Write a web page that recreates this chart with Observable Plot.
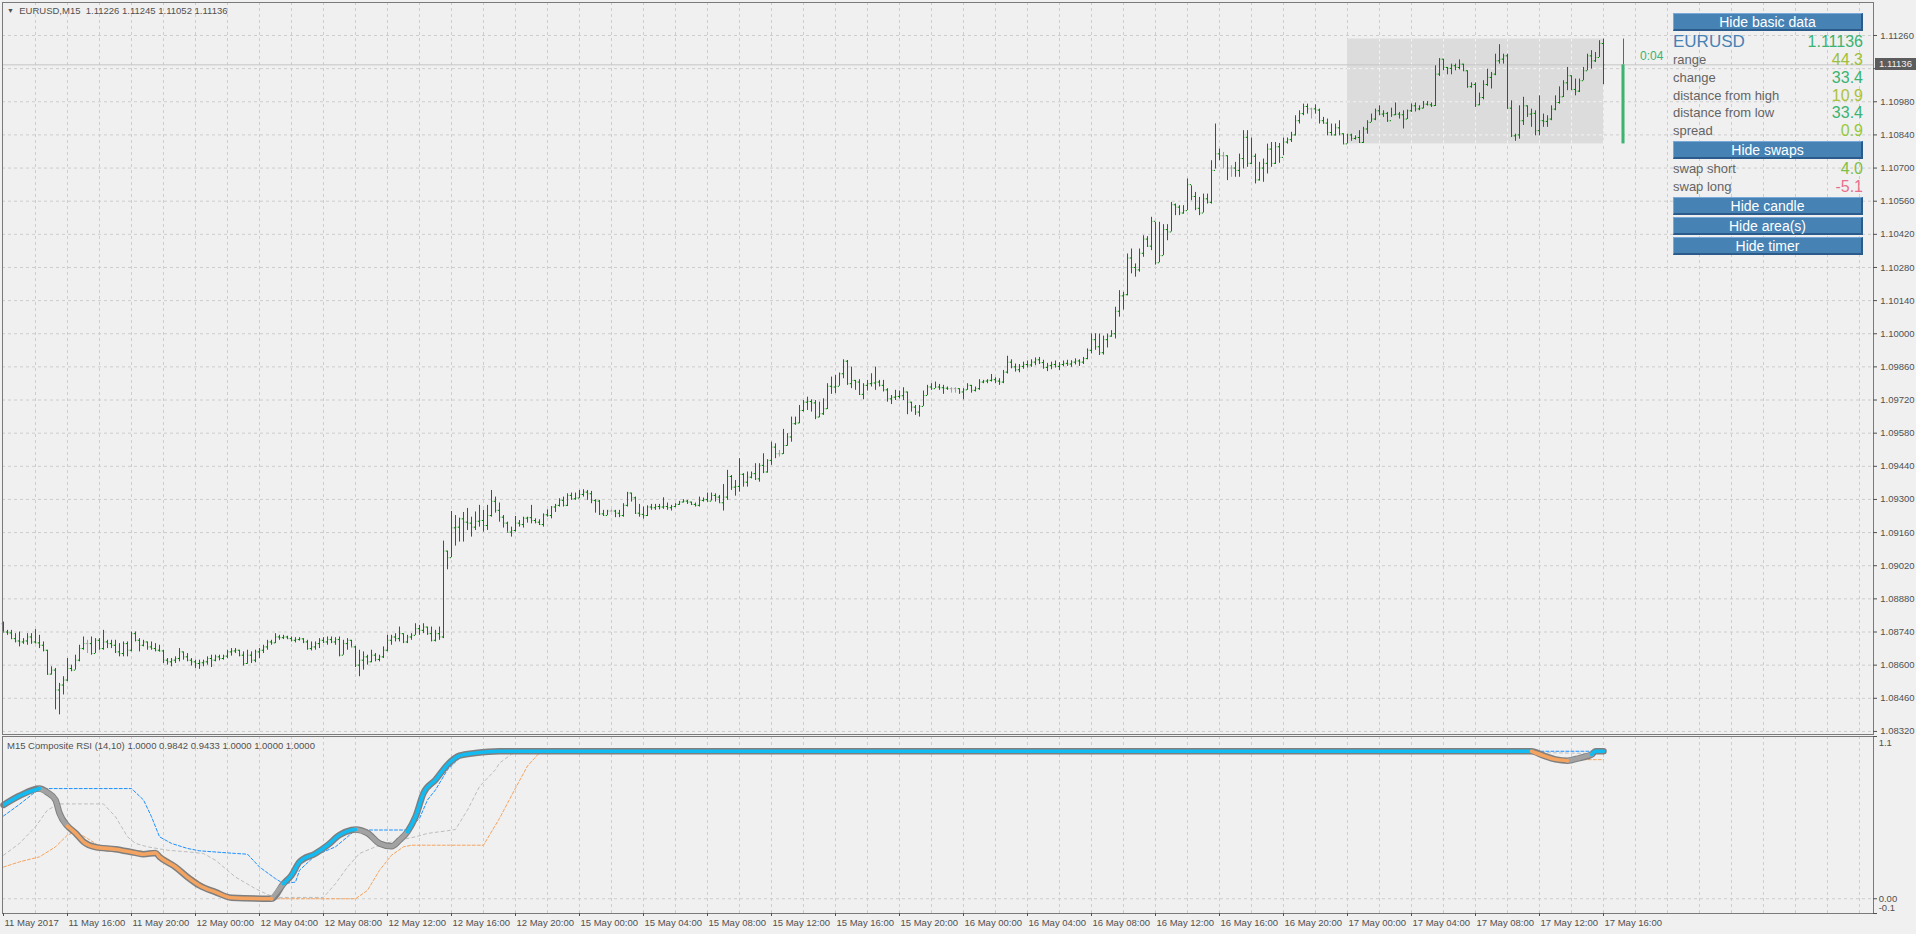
<!DOCTYPE html>
<html><head><meta charset="utf-8">
<script src="https://cdn.jsdelivr.net/npm/d3@7"></script>
<script src="https://cdn.jsdelivr.net/npm/@observablehq/plot@0.6"></script>
<style>
html,body{margin:0;padding:0;background:#f0f0f0;}
#wrap{position:relative;width:1916px;height:934px;overflow:hidden;background:#f0f0f0;font-family:"Liberation Sans",Arial,sans-serif;}
#wrap > div{position:absolute;}
.small{font-size:9.5px;color:#505050;white-space:nowrap;line-height:12px;height:12px;}
.btn{left:1673px;width:190px;height:18px;background:#4682b4;color:#fff;font-size:14px;line-height:16px;text-align:center;box-sizing:border-box;border-top:1px solid #78a9d9;border-left:1px solid #78a9d9;border-bottom:2px solid #2b5b8a;border-right:2px solid #2b5b8a;white-space:nowrap;}
.lbl{left:1673px;height:18px;line-height:18px;font-size:13px;color:#646464;white-space:nowrap;}
.val{right:53px;height:18px;line-height:18px;font-size:16px;text-align:right;white-space:nowrap;}
</style>
</head><body>
<div id="wrap"></div>
<script>
// ---------------- data ----------------
const symbol = "EURUSD";
const timeframe = "M15";
const firstOpen = 1.08775;
const barHigh = [
1.08782,1.08747,1.08747,1.08733,1.08740,1.08712,1.08733,1.08733,1.08750,1.08726,
1.08698,1.08663,1.08593,1.08586,1.08523,1.08551,1.08628,1.08600,1.08642,1.08684,
1.08719,1.08705,1.08719,1.08712,1.08712,1.08747,1.08705,1.08705,1.08705,1.08691,
1.08698,1.08698,1.08740,1.08740,1.08712,1.08705,1.08698,1.08698,1.08691,1.08684,
1.08663,1.08628,1.08628,1.08635,1.08670,1.08656,1.08649,1.08628,1.08621,1.08621,
1.08621,1.08635,1.08642,1.08642,1.08642,1.08642,1.08663,1.08670,1.08670,1.08663,
1.08656,1.08663,1.08656,1.08663,1.08670,1.08684,1.08705,1.08705,1.08733,1.08726,
1.08726,1.08722,1.08719,1.08716,1.08716,1.08712,1.08705,1.08698,1.08698,1.08712,
1.08716,1.08719,1.08719,1.08716,1.08719,1.08705,1.08712,1.08705,1.08680,1.08663,
1.08656,1.08642,1.08663,1.08649,1.08642,1.08677,1.08726,1.08726,1.08733,1.08761,
1.08733,1.08726,1.08733,1.08775,1.08768,1.08775,1.08761,1.08761,1.08747,1.08761,
1.09124,1.09082,1.09249,1.09232,1.09221,1.09245,1.09262,1.09225,1.09247,1.09275,
1.09254,1.09275,1.09338,1.09310,1.09285,1.09232,1.09204,1.09183,1.09228,1.09211,
1.09225,1.09225,1.09275,1.09218,1.09214,1.09239,1.09256,1.09270,1.09279,1.09303,
1.09310,1.09324,1.09327,1.09327,1.09338,1.09341,1.09338,1.09334,1.09299,1.09296,
1.09254,1.09254,1.09256,1.09254,1.09254,1.09282,1.09330,1.09327,1.09310,1.09279,
1.09268,1.09273,1.09279,1.09279,1.09279,1.09307,1.09285,1.09275,1.09282,1.09292,
1.09299,1.09296,1.09289,1.09285,1.09310,1.09306,1.09327,1.09327,1.09324,1.09317,
1.09363,1.09423,1.09401,1.09380,1.09472,1.09409,1.09416,1.09416,1.09451,1.09451,
1.09493,1.09468,1.09542,1.09535,1.09507,1.09596,1.09578,1.09648,1.09648,1.09697,
1.09718,1.09732,1.09721,1.09718,1.09711,1.09725,1.09789,1.09817,1.09824,1.09834,
1.09890,1.09887,1.09859,1.09803,1.09806,1.09789,1.09803,1.09831,1.09859,1.09803,
1.09803,1.09768,1.09739,1.09761,1.09758,1.09772,1.09754,1.09711,1.09697,1.09697,
1.09758,1.09782,1.09789,1.09796,1.09786,1.09782,1.09775,1.09772,1.09772,1.09768,
1.09768,1.09789,1.09782,1.09775,1.09806,1.09803,1.09806,1.09828,1.09814,1.09810,
1.09845,1.09905,1.09890,1.09872,1.09870,1.09880,1.09885,1.09890,1.09898,1.09900,
1.09888,1.09875,1.09880,1.09885,1.09878,1.09885,1.09888,1.09886,1.09894,1.09890,
1.09900,1.09936,1.09999,1.10000,1.09999,1.09990,1.09999,1.10013,1.10112,1.10182,
1.10175,1.10337,1.10358,1.10295,1.10358,1.10414,1.10410,1.10492,1.10471,1.10471,
1.10461,1.10461,1.10555,1.10548,1.10541,1.10541,1.10654,1.10625,1.10597,1.10576,
1.10590,1.10590,1.10731,1.10886,1.10780,1.10766,1.10752,1.10710,1.10724,1.10759,
1.10858,1.10858,1.10827,1.10759,1.10724,1.10738,1.10801,1.10808,1.10808,1.10804,
1.10827,1.10827,1.10851,1.10921,1.10942,1.10970,1.10970,1.10953,1.10967,1.10949,
1.10914,1.10907,1.10886,1.10886,1.10900,1.10845,1.10843,1.10843,1.10836,1.10858,
1.10872,1.10900,1.10928,1.10949,1.10963,1.10942,1.10935,1.10953,1.10975,1.10935,
1.10942,1.10945,1.10971,1.10975,1.10963,1.10981,1.10981,1.10975,1.11132,1.11162,
1.11160,1.11125,1.11139,1.11139,1.11157,1.11139,1.11111,1.11060,1.11060,1.11017,
1.11069,1.11118,1.11104,1.11181,1.11221,1.11181,1.11181,1.10984,1.10843,1.10963,
1.10999,1.10963,1.10949,1.10942,1.11005,1.10928,1.10921,1.10963,1.11005,1.11043,
1.11069,1.11125,1.11090,1.11076,1.11076,1.11125,1.11181,1.11196,1.11188,1.11238,
1.11245];
const barLow = [
1.08740,1.08726,1.08708,1.08694,1.08677,1.08688,1.08684,1.08688,1.08691,1.08670,
1.08656,1.08558,1.08558,1.08411,1.08390,1.08474,1.08530,1.08572,1.08579,1.08614,
1.08663,1.08649,1.08642,1.08649,1.08663,1.08663,1.08670,1.08670,1.08649,1.08635,
1.08635,1.08635,1.08656,1.08698,1.08656,1.08677,1.08663,1.08663,1.08656,1.08656,
1.08607,1.08600,1.08593,1.08607,1.08614,1.08621,1.08614,1.08596,1.08586,1.08582,
1.08593,1.08600,1.08590,1.08614,1.08618,1.08621,1.08628,1.08638,1.08649,1.08635,
1.08596,1.08604,1.08607,1.08610,1.08628,1.08649,1.08663,1.08684,1.08691,1.08705,
1.08708,1.08708,1.08698,1.08694,1.08702,1.08691,1.08663,1.08660,1.08663,1.08670,
1.08691,1.08684,1.08691,1.08684,1.08635,1.08642,1.08663,1.08677,1.08590,1.08551,
1.08579,1.08600,1.08610,1.08614,1.08614,1.08628,1.08656,1.08684,1.08698,1.08698,
1.08691,1.08691,1.08705,1.08726,1.08726,1.08733,1.08726,1.08698,1.08698,1.08705,
1.08712,1.09003,1.09054,1.09103,1.09120,1.09120,1.09169,1.09141,1.09169,1.09183,
1.09162,1.09169,1.09225,1.09242,1.09204,1.09179,1.09162,1.09141,1.09162,1.09183,
1.09179,1.09200,1.09197,1.09197,1.09190,1.09183,1.09225,1.09218,1.09245,1.09268,
1.09268,1.09270,1.09296,1.09296,1.09303,1.09310,1.09296,1.09282,1.09242,1.09232,
1.09228,1.09232,1.09247,1.09223,1.09223,1.09225,1.09268,1.09289,1.09237,1.09225,
1.09217,1.09228,1.09254,1.09254,1.09256,1.09258,1.09254,1.09251,1.09265,1.09275,
1.09285,1.09279,1.09275,1.09268,1.09268,1.09289,1.09289,1.09293,1.09289,1.09285,
1.09251,1.09296,1.09338,1.09314,1.09331,1.09352,1.09352,1.09387,1.09380,1.09373,
1.09409,1.09411,1.09444,1.09472,1.09479,1.09490,1.09525,1.09542,1.09613,1.09620,
1.09669,1.09676,1.09669,1.09637,1.09645,1.09655,1.09680,1.09744,1.09747,1.09778,
1.09810,1.09782,1.09768,1.09761,1.09739,1.09721,1.09758,1.09775,1.09761,1.09775,
1.09754,1.09711,1.09701,1.09718,1.09725,1.09718,1.09658,1.09669,1.09655,1.09648,
1.09693,1.09739,1.09761,1.09768,1.09761,1.09744,1.09761,1.09749,1.09749,1.09744,
1.09721,1.09761,1.09749,1.09754,1.09761,1.09789,1.09789,1.09796,1.09789,1.09782,
1.09789,1.09830,1.09852,1.09838,1.09835,1.09850,1.09855,1.09858,1.09865,1.09870,
1.09850,1.09840,1.09848,1.09855,1.09845,1.09860,1.09862,1.09858,1.09868,1.09862,
1.09870,1.09890,1.09915,1.09930,1.09908,1.09910,1.09940,1.09985,1.09978,1.10070,
1.10100,1.10160,1.10253,1.10239,1.10260,1.10323,1.10365,1.10351,1.10290,1.10300,
1.10330,1.10393,1.10430,1.10499,1.10499,1.10505,1.10520,1.10562,1.10520,1.10499,
1.10510,1.10548,1.10548,1.10696,1.10731,1.10696,1.10647,1.10661,1.10661,1.10661,
1.10696,1.10703,1.10715,1.10633,1.10645,1.10640,1.10675,1.10703,1.10715,1.10720,
1.10752,1.10801,1.10808,1.10835,1.10886,1.10921,1.10928,1.10907,1.10928,1.10886,
1.10886,1.10836,1.10836,1.10835,1.10836,1.10800,1.10802,1.10813,1.10818,1.10804,
1.10804,1.10843,1.10893,1.10900,1.10921,1.10914,1.10893,1.10914,1.10921,1.10907,
1.10865,1.10905,1.10935,1.10937,1.10942,1.10950,1.10963,1.10956,1.10960,1.11087,
1.11111,1.11094,1.11094,1.11111,1.11115,1.11108,1.11037,1.11037,1.10956,1.10963,
1.10988,1.11045,1.11034,1.11090,1.11139,1.11139,1.10949,1.10829,1.10813,1.10822,
1.10880,1.10914,1.10872,1.10836,1.10836,1.10872,1.10872,1.10900,1.10942,1.10970,
1.10998,1.11027,1.11027,1.11005,1.11019,1.11069,1.11111,1.11118,1.11146,1.11167,
1.11052];
const barClose = [
1.08740,1.08736,1.08712,1.08702,1.08698,1.08702,1.08719,1.08698,1.08694,1.08684,
1.08663,1.08562,1.08579,1.08495,1.08516,1.08537,1.08586,1.08579,1.08621,1.08670,
1.08691,1.08691,1.08649,1.08705,1.08670,1.08698,1.08691,1.08684,1.08656,1.08649,
1.08691,1.08663,1.08733,1.08705,1.08684,1.08698,1.08677,1.08670,1.08663,1.08660,
1.08621,1.08614,1.08621,1.08628,1.08656,1.08635,1.08621,1.08614,1.08607,1.08610,
1.08614,1.08628,1.08621,1.08635,1.08628,1.08638,1.08656,1.08660,1.08663,1.08642,
1.08607,1.08642,1.08621,1.08656,1.08663,1.08677,1.08698,1.08694,1.08719,1.08716,
1.08719,1.08712,1.08705,1.08708,1.08711,1.08698,1.08670,1.08677,1.08691,1.08705,
1.08698,1.08708,1.08698,1.08708,1.08642,1.08691,1.08705,1.08677,1.08600,1.08621,
1.08635,1.08614,1.08642,1.08624,1.08635,1.08663,1.08705,1.08719,1.08712,1.08733,
1.08698,1.08719,1.08726,1.08754,1.08747,1.08761,1.08733,1.08705,1.08733,1.08719,
1.09082,1.09054,1.09180,1.09183,1.09218,1.09204,1.09200,1.09183,1.09208,1.09211,
1.09190,1.09232,1.09292,1.09254,1.09225,1.09200,1.09162,1.09169,1.09200,1.09194,
1.09221,1.09223,1.09211,1.09204,1.09194,1.09235,1.09232,1.09268,1.09275,1.09296,
1.09275,1.09317,1.09303,1.09306,1.09321,1.09331,1.09324,1.09296,1.09293,1.09239,
1.09232,1.09251,1.09251,1.09242,1.09232,1.09275,1.09327,1.09307,1.09242,1.09237,
1.09232,1.09268,1.09265,1.09270,1.09268,1.09270,1.09265,1.09270,1.09279,1.09289,
1.09293,1.09289,1.09279,1.09275,1.09296,1.09299,1.09293,1.09317,1.09310,1.09286,
1.09310,1.09397,1.09352,1.09355,1.09406,1.09373,1.09394,1.09409,1.09387,1.09444,
1.09416,1.09465,1.09521,1.09493,1.09493,1.09528,1.09564,1.09620,1.09623,1.09676,
1.09711,1.09714,1.09708,1.09648,1.09662,1.09683,1.09778,1.09775,1.09778,1.09831,
1.09884,1.09789,1.09803,1.09796,1.09744,1.09782,1.09789,1.09792,1.09796,1.09782,
1.09763,1.09725,1.09732,1.09735,1.09738,1.09754,1.09711,1.09690,1.09669,1.09693,
1.09739,1.09775,1.09768,1.09775,1.09772,1.09770,1.09768,1.09768,1.09768,1.09754,
1.09763,1.09782,1.09761,1.09768,1.09796,1.09800,1.09803,1.09806,1.09800,1.09796,
1.09838,1.09880,1.09860,1.09848,1.09862,1.09870,1.09868,1.09880,1.09890,1.09878,
1.09858,1.09865,1.09870,1.09862,1.09870,1.09875,1.09872,1.09880,1.09885,1.09880,
1.09895,1.09930,1.09975,1.09945,1.09920,1.09975,1.09990,1.10000,1.10095,1.10160,
1.10165,1.10320,1.10280,1.10270,1.10340,1.10400,1.10370,1.10475,1.10300,1.10330,
1.10440,1.10430,1.10545,1.10535,1.10510,1.10520,1.10630,1.10580,1.10530,1.10510,
1.10570,1.10555,1.10690,1.10760,1.10752,1.10752,1.10700,1.10700,1.10690,1.10740,
1.10830,1.10720,1.10750,1.10650,1.10700,1.10720,1.10780,1.10720,1.10790,1.10745,
1.10810,1.10820,1.10840,1.10900,1.10930,1.10960,1.10950,1.10950,1.10945,1.10900,
1.10890,1.10850,1.10840,1.10870,1.10845,1.10802,1.10840,1.10825,1.10829,1.10808,
1.10865,1.10893,1.10907,1.10942,1.10928,1.10931,1.10900,1.10925,1.10928,1.10925,
1.10907,1.10942,1.10963,1.10950,1.10953,1.10970,1.10967,1.10964,1.11097,1.11160,
1.11125,1.11121,1.11132,1.11125,1.11139,1.11111,1.11044,1.11053,1.10967,1.10998,
1.11053,1.11083,1.11097,1.11153,1.11160,1.11174,1.10953,1.10836,1.10840,1.10900,
1.10963,1.10928,1.10931,1.10858,1.10900,1.10897,1.10907,1.10949,1.10977,1.11001,
1.11060,1.11090,1.11032,1.11025,1.11069,1.11111,1.11174,1.11153,1.11167,1.11226,
1.11136];

// day (17 May) box / current candle
const dayStartBar = 336;
const dayOpen = 1.10802, dayHigh = 1.11245, dayLow = 1.10802;
const timerText = "0:04";

// price axis ticks
const priceTicks = [1.08320,1.08460,1.08600,1.08740,1.08880,1.09020,1.09160,1.09300,1.09440,1.09580,1.09720,
  1.09860,1.10000,1.10140,1.10280,1.10420,1.10560,1.10700,1.10840,1.10980,1.11120,1.11260];
// time axis labels (every 16 bars = 4 hours)
const dateLabels = ["11 May 2017","11 May 16:00","11 May 20:00","12 May 00:00","12 May 04:00","12 May 08:00",
  "12 May 12:00","12 May 16:00","12 May 20:00","15 May 00:00","15 May 04:00","15 May 08:00","15 May 12:00",
  "15 May 16:00","15 May 20:00","16 May 00:00","16 May 04:00","16 May 08:00","16 May 12:00","16 May 16:00",
  "16 May 20:00","17 May 00:00","17 May 04:00","17 May 08:00","17 May 12:00","17 May 16:00"];
const rsiTicks = [1.1, 0, -0.1];
const rsiTickLabels = ["1.1", "0.00", "-0.1"];

// Composite RSI (thick line): vertices and state of each segment (u = up, d = down, n = neutral)
const compBar = [0,4,9,11,13,14,16,18,20,23,28,33,35,38,39,43,46,49,53,57,67,70,72,74,78,81,84,87,88,91,94,97,99,101,103,105,108,111,114,118,124,382,385,388,391,394,397,398,400];
const compVal = [0.636,0.698,0.747,0.72,0.67,0.58,0.493,0.445,0.386,0.35,0.336,0.311,0.302,0.311,0.284,0.215,0.147,0.09,0.045,0.007,0,0.102,0.159,0.25,0.307,0.363,0.432,0.466,0.47,0.445,0.375,0.356,0.397,0.454,0.556,0.716,0.806,0.909,0.97,0.988,1.0,1.0,0.97,0.945,0.936,0.954,0.977,1.0,1.0];
const compState = ["u","u","n","n","n","n","d","d","d","d","d","d","d","d","d","d","d","d","d","d","n","u","u","u","u","u","u","u","n","n","n","n","n","u","u","u","u","u","u","u","u","d","d","d","n","n","u","u"];
// upper level (blue dashed)
const upBar = [0,4,9,32,35,37,39,42,46,49,58,61,64,68,70,73,74,78,83,86,88,101,104,106,108,111,114,118,123,400];
const upVal = [0.561,0.64,0.747,0.747,0.67,0.556,0.42,0.375,0.341,0.325,0.307,0.302,0.215,0.136,0.102,0.113,0.193,0.295,0.352,0.42,0.466,0.466,0.545,0.67,0.738,0.875,0.954,0.984,0.997,1.0];
// lower level (orange dashed)
const loBar = [0,4,9,13,16,18,21,24,33,37,41,44,49,53,58,88,91,94,97,100,102,120,124,128,131,134,136,382,385,388,391,400];
const loVal = [0.215,0.25,0.284,0.352,0.432,0.454,0.409,0.357,0.325,0.318,0.273,0.205,0.113,0.045,0.0,0.0,0.057,0.193,0.295,0.352,0.363,0.363,0.545,0.75,0.9,0.99,1.0,1.0,0.97,0.945,0.943,0.943];
// middle level (grey dotted)
const midBar = [0,4,8,11,14,25,28,31,33,36,41,46,50,53,58,63,66,68,80,83,86,89,93,96,99,103,106,111,113,116,119,123,124,127,129,382,386,400];
const midVal = [0.295,0.375,0.488,0.602,0.643,0.643,0.556,0.42,0.375,0.352,0.329,0.318,0.307,0.261,0.147,0.068,0.029,0.009,0.009,0.102,0.215,0.307,0.352,0.379,0.397,0.42,0.443,0.461,0.47,0.602,0.761,0.875,0.92,0.98,1.0,1.0,0.99,0.984];
const rsiName = "M15 Composite RSI (14,10)";
const rsiBufferValues = ["1.0000","0.9842","0.9433","1.0000","1.0000","1.0000"];

// info panel
const infoLabels = ["range","change","distance from high","distance from low","spread"];
const infoValues = ["44.3","33.4","10.9","33.4","0.9"];
const infoColors = ["#9fbf3a","#3cb371","#abc23a","#3cb371","#96c83c"];
const swapLabels = ["swap short","swap long"];
const swapValues = ["4.0","-5.1"];
const swapColors = ["#7dbf4a","#e8708c"];
const buttonLabels = ["Hide basic data","Hide swaps","Hide candle","Hide area(s)","Hide timer"];

// ---------------- build ----------------
const N = barClose.length;
const bars = d3.range(N).map(i => ({
  i, high: barHigh[i], low: barLow[i], close: barClose[i],
  open: i === 0 ? firstOpen : barClose[i - 1]
}));
bars.forEach(b => b.doji = b.open === b.close);
const normal = bars.filter(b => !b.doji), doji = bars.filter(b => b.doji);
const lastBar = N - 1;
const lastClose = barClose[lastBar];
const candleBar = lastBar + 5;

const xDom = [-0.25, 467.5];
const gridBars = d3.range(8, 466, 8);
const gridCol = "#cdcdcd", dash = "3,3";
const font = "Liberation Sans, Arial, sans-serif";
const axisCol = "#505050";
const green = "#008000", grey = "#a0a0a0";
const dayEnd = lastBar + 0.2;
// the tick label hidden behind the current-price box
const shownTicks = priceTicks.filter(p => Math.abs(p - lastClose) > 0.0003);

const main = Plot.plot({
  width: 1916, height: 736,
  marginTop: 2, marginBottom: 2, marginLeft: 2, marginRight: 43,
  x: {domain: xDom, axis: null},
  y: {domain: [1.08307, 1.113994], axis: null},
  style: {background: "transparent", fontFamily: font, fontSize: "9.5px", overflow: "visible"},
  marks: [
    Plot.ruleX(gridBars, {stroke: gridCol, strokeDasharray: dash}),
    Plot.ruleY(priceTicks, {stroke: gridCol, strokeDasharray: dash}),
    Plot.rect([{x1: dayStartBar, x2: dayEnd, y1: dayLow, y2: dayHigh}], {x1: "x1", x2: "x2", y1: "y1", y2: "y2", fill: "#dcdcdc"}),
    Plot.ruleX(gridBars.filter(b => b > dayStartBar && b < dayEnd), {y1: dayLow, y2: dayHigh, stroke: "#f3f3f3", strokeDasharray: dash}),
    Plot.ruleY(priceTicks.filter(p => p > dayLow && p < dayHigh), {x1: dayStartBar, x2: dayEnd, stroke: "#f3f3f3", strokeDasharray: dash}),
    Plot.ruleY([lastClose], {stroke: "#c6c6c6"}),
    // OHLC bars
    Plot.ruleX(normal, {x: "i", y1: "low", y2: "high", stroke: green}),
    Plot.ruleY(normal, {y: "open", x1: d => d.i - 0.32, x2: d => d.i, stroke: green}),
    Plot.ruleY(normal, {y: "close", x1: d => d.i, x2: d => d.i + 0.32, stroke: green}),
    Plot.ruleX(doji, {x: "i", y1: "low", y2: "high", stroke: grey}),
    Plot.ruleY(doji, {y: "open", x1: d => d.i - 0.32, x2: d => d.i + 0.32, stroke: grey}),
    // current day candle
    Plot.ruleX([candleBar], {y1: lastClose, y2: dayHigh, stroke: "#2e8b2e"}),
    Plot.rect([{x1: candleBar - 0.38, x2: candleBar + 0.38, y1: dayOpen, y2: lastClose}], {x1: "x1", x2: "x2", y1: "y1", y2: "y2", fill: "#3cb371"}),
    Plot.frame({stroke: "#7a7a7a"}),
    // right price axis
    Plot.ruleY(priceTicks, {x1: xDom[1], x2: xDom[1] + 1, stroke: axisCol}),
    Plot.text(shownTicks, {x: xDom[1] + 1.7, y: d => d, text: d => d.toFixed(5), textAnchor: "start", fill: axisCol, fontSize: 9.5})
  ]
});

const rsiPts = (bs, vs) => bs.map((b, k) => ({bar: b, v: vs[k]}));
const runs = [];
let run = null;
compState.forEach((s, k) => {
  if (!run || run.state !== s) {
    run = {state: s, id: runs.length, pts: [{bar: compBar[k], v: compVal[k]}]};
    runs.push(run);
  }
  run.pts.push({bar: compBar[k + 1], v: compVal[k + 1]});
});
const runPts = runs.flatMap(r => r.pts.map(p => ({...p, id: r.id, state: r.state})));
const thick = {x: "bar", y: "v", z: "id", curve: "monotone-x", strokeLinecap: "round", strokeLinejoin: "round"};
const dateTicks = dateLabels.map((label, k) => ({bar: k * 16, label}));

const rsi = Plot.plot({
  width: 1916, height: 199,
  marginTop: 1, marginBottom: 21, marginLeft: 2, marginRight: 43,
  x: {domain: xDom, axis: null},
  y: {domain: [-0.1, 1.1], axis: null},
  style: {background: "transparent", fontFamily: font, fontSize: "9.5px", overflow: "visible"},
  marks: [
    Plot.ruleX(gridBars, {stroke: gridCol, strokeDasharray: dash}),
    Plot.ruleY([0], {stroke: gridCol, strokeDasharray: dash}),
    Plot.line(rsiPts(midBar, midVal), {x: "bar", y: "v", stroke: "#bdbdbd", strokeDasharray: "3,3", strokeWidth: 1}),
    Plot.line(rsiPts(loBar, loVal), {x: "bar", y: "v", stroke: "#f4a460", strokeDasharray: "3,2", strokeWidth: 1}),
    Plot.line(rsiPts(upBar, upVal), {x: "bar", y: "v", stroke: "#1e90ff", strokeDasharray: "3,2", strokeWidth: 1}),
    Plot.line(rsiPts(compBar, compVal), {x: "bar", y: "v", curve: "monotone-x", stroke: "#7f7f7f", strokeWidth: 6.5, strokeLinecap: "round", strokeLinejoin: "round"}),
    Plot.line(runPts.filter(d => d.state === "n"), {...thick, stroke: "#a2a2a2", strokeWidth: 4.5}),
    Plot.line(runPts.filter(d => d.state === "u"), {...thick, stroke: "#12bcf2", strokeWidth: 3.6}),
    Plot.line(runPts.filter(d => d.state === "d"), {...thick, stroke: "#f4a460", strokeWidth: 3.6}),
    Plot.frame({stroke: "#7a7a7a"}),
    // right axis
    Plot.ruleY(rsiTicks, {x1: xDom[1], x2: xDom[1] + 1, stroke: axisCol}),
    Plot.text(rsiTicks, {x: xDom[1] + 1.3, y: d => d, text: (d, k) => rsiTickLabels[k], textAnchor: "start", fill: axisCol, fontSize: 9.5}),
    // time axis
    Plot.ruleX(dateTicks, {x: "bar", y1: -0.1, y2: -0.1 - 3 / 147.5, stroke: axisCol}),
    Plot.text(dateTicks, {x: "bar", y: -0.1, dy: 9, dx: 1, text: "label", textAnchor: "start", fill: axisCol, fontSize: 9.5})
  ]
});
// nudge RSI axis labels that sit at the panel edges (as the terminal does)
rsi.querySelectorAll("text").forEach(t => {
  if (t.textContent === "1.1") t.setAttribute("transform", (t.getAttribute("transform") || "") + " translate(0,6)");
  if (t.textContent === "-0.1") t.setAttribute("transform", (t.getAttribute("transform") || "") + " translate(0,-6)");
});

const wrap = document.getElementById("wrap");
function add(html, css, cls) {
  const d = document.createElement("div");
  if (cls) d.className = cls;
  d.style.cssText = css;
  d.innerHTML = html;
  wrap.appendChild(d);
  return d;
}
const m = add("", "left:0;top:0;width:1916px;height:736px;");
m.appendChild(main);
const r = add("", "left:0;top:735px;width:1916px;height:199px;");
r.appendChild(rsi);

// headers
add(`<span style="font-size:7px;position:relative;top:-1px;">&#9660;</span>&nbsp;&nbsp;${symbol},${timeframe}&nbsp;&nbsp;${bars[lastBar].open.toFixed(5)} ${barHigh[lastBar].toFixed(5)} ${barLow[lastBar].toFixed(5)} ${lastClose.toFixed(5)}`,
  "left:7px;top:5px;", "small");
add(`${rsiName} ${rsiBufferValues.join(" ")}`, "left:7px;top:740px;", "small");

// current price label
const yLast = main.scale("y").apply(lastClose);
add(lastClose.toFixed(5), `left:1875px;top:${yLast - 6}px;width:41px;height:12px;background:#5c5c5c;color:#f0f0f0;font-size:9.5px;line-height:12px;padding-left:4px;box-sizing:border-box;`);
// timer
add(timerText, `left:1640px;top:${49}px;font-size:12px;line-height:14px;color:#3cb371;`);

// info panel
add(buttonLabels[0], "top:13px;", "btn");
add(symbol, "left:1673px;top:32px;height:20px;line-height:20px;font-size:17px;color:#4682b4;");
add(lastClose.toFixed(5), "right:53px;top:32px;height:20px;line-height:20px;font-size:16px;color:#3cb371;");
const rowY = [60, 77.7, 95.6, 113.3, 131];
infoLabels.forEach((l, k) => {
  add(l, `top:${rowY[k] - 9}px;`, "lbl");
  add(infoValues[k], `top:${rowY[k] - 9}px;color:${infoColors[k]};`, "val");
});
add(buttonLabels[1], "top:141px;", "btn");
const swapY = [169, 187.3];
swapLabels.forEach((l, k) => {
  add(l, `top:${swapY[k] - 9}px;`, "lbl");
  add(swapValues[k], `top:${swapY[k] - 9}px;color:${swapColors[k]};`, "val");
});
add(buttonLabels[2], "top:197px;", "btn");
add(buttonLabels[3], "top:217px;", "btn");
add(buttonLabels[4], "top:237px;", "btn");
</script>
</body></html>
